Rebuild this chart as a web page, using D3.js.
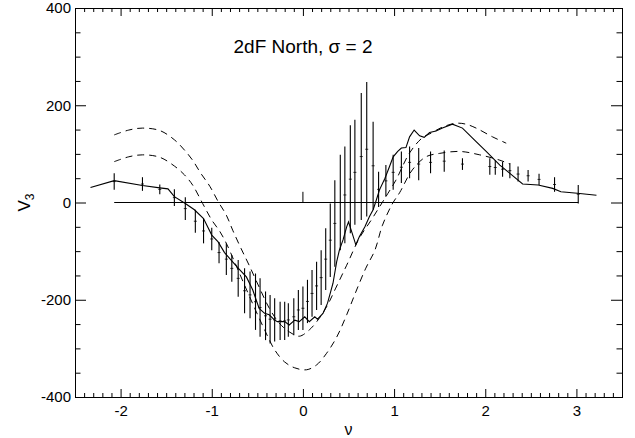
<!DOCTYPE html>
<html>
<head>
<meta charset="utf-8">
<script src="https://cdn.jsdelivr.net/npm/d3@7"></script>
<style>
  body { margin: 0; background: #fff; }
  svg text { font-family: 'Liberation Sans', Arial, Helvetica, sans-serif; fill: #000; }
</style>
</head>
<body>
<div id="chart"></div>
<script>
// measured curve (solid)
const nuMain = [-2.33, -2.07, -1.76, -1.57, -1.48, -1.41, -1.29, -1.19, -1.09, -1.0, -0.93, -0.86,
  -0.79, -0.71, -0.62, -0.55, -0.48, -0.42, -0.37, -0.31, -0.28, -0.2, -0.15, -0.09, -0.04, 0.02,
  0.07, 0.13, 0.16, 0.22, 0.27, 0.33, 0.37, 0.4, 0.44, 0.48, 0.5, 0.54, 0.58, 0.62, 0.68, 0.73,
  0.77, 0.8, 0.84, 0.9, 0.95, 0.99, 1.04, 1.08, 1.13, 1.17, 1.22, 1.28, 1.33, 1.39, 1.46, 1.53,
  1.64, 1.75, 1.9, 2.01, 2.16, 2.27, 2.41, 2.58, 2.74, 2.83, 3.01, 3.22]
const v3Main = [31, 45, 35, 30, 28, 12, -2, -15, -33, -67, -81, -103,
  -118, -135, -153, -180, -218, -228, -231, -242, -245, -245, -252, -242, -245, -235,
  -245, -235, -240, -228, -207, -166, -122, -98, -77, -50, -40, -63, -87, -70, -50, -29,
  -15, 2, 26, 50, 74, 94, 105, 112, 113, 135, 149, 137, 134, 144, 147, 153,
  161, 153, 125, 105, 77, 60, 38, 36, 29, 22, 19, 15]

// error bars of the mock mean
const nuBars = [-2.07, -1.76, -1.57, -1.41, -1.29, -1.18, -1.09, -1.0, -0.92, -0.84, -0.78, -0.71,
  -0.64, -0.58, -0.52, -0.47, -0.41, -0.36, -0.31, -0.25, -0.2, -0.16, -0.1, -0.05, 0.0, 0.05,
  0.1, 0.15, 0.2, 0.25, 0.3, 0.35, 0.41, 0.46, 0.52, 0.57, 0.64, 0.7, 0.77, 0.83, 0.91, 0.99,
  1.08, 1.17, 1.27, 1.4, 1.55, 1.75, 2.05, 2.11, 2.19, 2.27, 2.36, 2.47, 2.59, 2.76, 3.02]
const barHi = [60, 52, 37, 27, 11, -15, -33, -52, -81, -84, -108, -118,
  -135, -142, -146, -156, -183, -190, -197, -204, -204, -207, -197, -180, -173, -159,
  -139, -122, -98, -53, -2, 46, 98, 115, 159, 170, 225, 248, 166, 63, 77, 98,
  105, 115, 112, 105, 107, 91, 91, 87, 84, 81, 74, 67, 59, 52, 36]
const barLo = [26, 24, 17, -7, -36, -62, -84, -98, -125, -149, -163, -194,
  -228, -238, -262, -276, -283, -290, -286, -283, -283, -276, -273, -262, -262, -248,
  -235, -221, -211, -180, -153, -132, -98, -84, -63, -46, -36, -29, -15, -9, 12, 26,
  40, 50, 46, 60, 63, 67, 57, 57, 53, 50, 43, 43, 36, 22, -2]

// small mark at nu = 0 on the zero line
const nuMark = [0.0]
const markHi = [22]

// dashed predictions
const nuDashUpper = [-2.07, -1.91, -1.76, -1.57, -1.41, -1.3, -1.21, -1.12, -1.02, -0.93, -0.84, -0.77,
  -0.68, -0.59, -0.48, -0.37, -0.26, -0.15, -0.04, 0.07, 0.18, 0.27, 0.36, 0.48, 0.62, 0.75,
  0.84, 0.93, 1.02, 1.17, 1.31, 1.41, 1.53, 1.68, 1.79, 1.9, 2.08, 2.23]
const v3DashUpper = [139, 149, 153, 148, 129, 108, 87, 60, 33, 2, -26, -57,
  -94, -129, -174, -217, -248, -266, -275, -262, -238, -211, -176, -129, -73, -36,
  -9, 18, 46, 102, 133, 143, 155, 163, 161, 153, 135, 122]
const nuDashLower = [-2.07, -1.91, -1.76, -1.57, -1.41, -1.3, -1.21, -1.1, -1.0, -0.91, -0.84, -0.75,
  -0.64, -0.53, -0.42, -0.31, -0.2, -0.09, 0.04, 0.15, 0.26, 0.37, 0.48, 0.58, 0.69, 0.79,
  0.87, 0.98, 1.06, 1.2, 1.35, 1.5, 1.72, 1.94, 2.16, 2.27]
const v3DashLower = [84, 94, 98, 93, 75, 57, 36, -2, -36, -60, -84, -122,
  -170, -217, -262, -303, -328, -340, -344, -334, -310, -277, -231, -184, -135, -98,
  -48, -3, 20, 67, 94, 101, 105, 98, 87, 79]

// zero line
const nuZero = [-2.07, 3.02]

const xTicks = [-2, -1, 0, 1, 2, 3]
const yTicks = [-400, -200, 0, 200, 400]
const titleText = '2dF North, \u03c3 = 2'

const margin = { top: 8, left: 75, right: 13, bottom: 41 }
const width = 635
const height = 438

const svg = d3
  .select('#chart')
  .append('svg')
  .attr('width', width)
  .attr('height', height)

const x = d3.scaleLinear().domain([-2.5, 3.5]).range([margin.left, width - margin.right])
const y = d3.scaleLinear().domain([-400, 400]).range([height - margin.bottom, margin.top])

const x0 = margin.left
const x1 = width - margin.right
const y0 = margin.top
const y1 = height - margin.bottom

const xMinor = d3.range(-25, 36).map(d => d / 10).filter(d => !xTicks.includes(d))
const yMinor = d3.range(-400, 401, 50).filter(d => !yTicks.includes(d))

// plain hyphen minus, like the original
const plainFormat = d => String(d)

function styleAxis(g) {
  g.select('.domain').remove()
  g.selectAll('line').attr('stroke', '#000').attr('stroke-width', 1)
  g.selectAll('text').attr('font-size', 15)
}

// bottom + top
svg.append('g').attr('transform', `translate(0,${y1})`)
  .call(d3.axisBottom(x).tickValues(xTicks).tickSize(-8).tickPadding(8).tickFormat(plainFormat))
  .call(styleAxis)
svg.append('g').attr('transform', `translate(0,${y1})`)
  .call(d3.axisBottom(x).tickValues(xMinor).tickSize(-4).tickFormat(''))
  .call(styleAxis)
svg.append('g').attr('transform', `translate(0,${y0})`)
  .call(d3.axisTop(x).tickValues(xTicks).tickSize(-8).tickFormat(''))
  .call(styleAxis)
svg.append('g').attr('transform', `translate(0,${y0})`)
  .call(d3.axisTop(x).tickValues(xMinor).tickSize(-4).tickFormat(''))
  .call(styleAxis)

// left + right
svg.append('g').attr('transform', `translate(${x0},0)`)
  .call(d3.axisLeft(y).tickValues(yTicks).tickSize(-11).tickPadding(4).tickFormat(plainFormat))
  .call(styleAxis)
svg.append('g').attr('transform', `translate(${x0},0)`)
  .call(d3.axisLeft(y).tickValues(yMinor).tickSize(-5.5).tickFormat(''))
  .call(styleAxis)
svg.append('g').attr('transform', `translate(${x1},0)`)
  .call(d3.axisRight(y).tickValues(yTicks).tickSize(-11).tickFormat(''))
  .call(styleAxis)
svg.append('g').attr('transform', `translate(${x1},0)`)
  .call(d3.axisRight(y).tickValues(yMinor).tickSize(-5.5).tickFormat(''))
  .call(styleAxis)

svg.append('rect')
  .attr('x', x0 + 0.5)
  .attr('y', y0 + 0.5)
  .attr('width', x1 - x0)
  .attr('height', y1 - y0)
  .attr('fill', 'none')
  .attr('stroke', '#000')
  .attr('stroke-width', 1)

const plot = svg.append('g')

// zero line
plot.append('line')
  .attr('x1', x(nuZero[0]))
  .attr('x2', x(nuZero[1]))
  .attr('y1', y(0))
  .attr('y2', y(0))
  .attr('stroke', '#000')
  .attr('stroke-width', 1.2)

plot.selectAll('.mark')
  .data(nuMark)
  .enter()
  .append('line')
  .attr('class', 'mark')
  .attr('x1', d => x(d))
  .attr('x2', d => x(d))
  .attr('y1', y(0))
  .attr('y2', (d, i) => y(markHi[i]))
  .attr('stroke', '#000')

// error bars
plot.selectAll('.bar')
  .data(nuBars)
  .enter()
  .append('line')
  .attr('class', 'bar')
  .attr('x1', d => x(d))
  .attr('x2', d => x(d))
  .attr('y1', (d, i) => y(barLo[i]))
  .attr('y2', (d, i) => y(barHi[i]))
  .attr('stroke', '#000')
  .attr('stroke-width', 1.1)

plot.selectAll('.dot')
  .data(nuBars)
  .enter()
  .append('line')
  .attr('class', 'dot')
  .attr('x1', d => x(d) - 1.5)
  .attr('x2', d => x(d) + 1.5)
  .attr('y1', (d, i) => y((barLo[i] + barHi[i]) / 2))
  .attr('y2', (d, i) => y((barLo[i] + barHi[i]) / 2))
  .attr('stroke', '#000')
  .attr('stroke-width', 0.8)

// dashed curves
const dashLine = d3.line()
  .x(d => x(d[0]))
  .y(d => y(d[1]))
  .curve(d3.curveCatmullRom)

plot.append('path')
  .datum(d3.zip(nuDashUpper, v3DashUpper))
  .attr('d', dashLine)
  .attr('fill', 'none')
  .attr('stroke', '#000')
  .attr('stroke-width', 1)
  .attr('stroke-dasharray', '7,5')

plot.append('path')
  .datum(d3.zip(nuDashLower, v3DashLower))
  .attr('d', dashLine)
  .attr('fill', 'none')
  .attr('stroke', '#000')
  .attr('stroke-width', 1)
  .attr('stroke-dasharray', '7,5')

// measured curve
const line = d3.line()
  .x(d => x(d[0]))
  .y(d => y(d[1]))

plot.append('path')
  .datum(d3.zip(nuMain, v3Main))
  .attr('d', line)
  .attr('fill', 'none')
  .attr('stroke', '#000')
  .attr('stroke-width', 1.1)

// titles
svg.append('text')
  .attr('x', 303)
  .attr('y', 53)
  .attr('text-anchor', 'middle')
  .attr('font-size', 19)
  .text(titleText)

svg.append('text')
  .attr('x', (x0 + x1) / 2)
  .attr('y', 435)
  .attr('text-anchor', 'middle')
  .attr('font-size', 16)
  .text('\u03bd')

const yTitle = svg.append('text')
  .attr('transform', `translate(30,${(y0 + y1) / 2}) rotate(-90)`)
  .attr('text-anchor', 'middle')
  .attr('font-size', 17)
yTitle.append('tspan').text('V')
yTitle.append('tspan').attr('font-size', 12).attr('dy', 4).text('3')
</script>
</body>
</html>
